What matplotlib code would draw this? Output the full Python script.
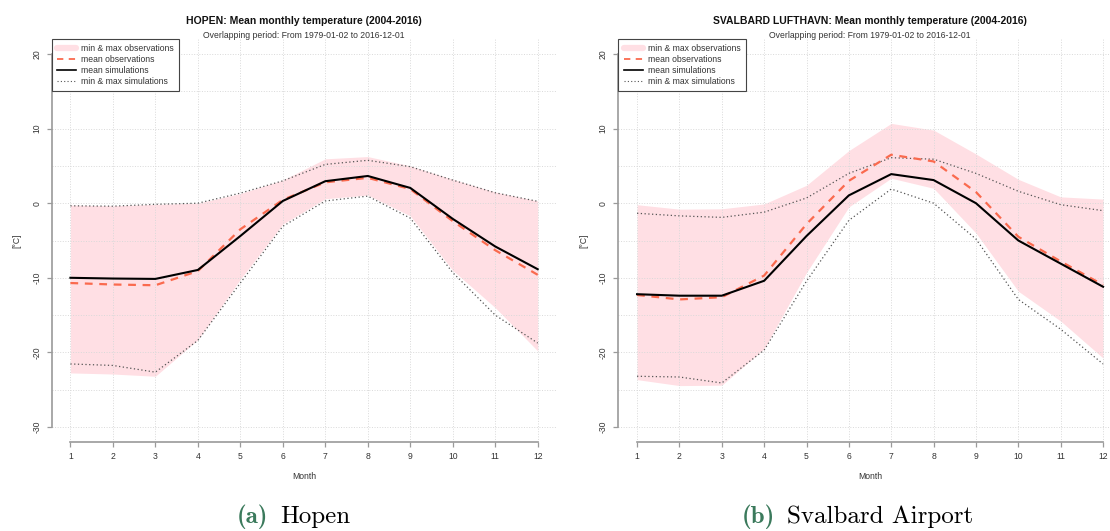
import matplotlib.pyplot as plt
from matplotlib.lines import Line2D

plt.rcParams['font.family'] = ['Liberation Sans', 'DejaVu Sans']
plt.rcParams['axes.unicode_minus'] = False

months = list(range(1, 13))

# Hopen
hopen_obs_min = [-22.75, -22.9, -23.2, -18.3, -10.2, -2.8, 0.6, 1.1, -1.7, -9.0, -14.0, -19.8]
hopen_obs_max = [-0.25, -0.35, -0.15, 0.0, 1.3, 3.1, 5.95, 6.25, 5.0, 3.2, 1.5, 0.3]
hopen_obs_mean = [-10.7, -10.9, -11.0, -9.1, -3.5, 0.45, 2.8, 3.4, 1.9, -2.4, -6.3, -9.6]
hopen_sim_mean = [-10.0, -10.1, -10.15, -8.95, -4.4, 0.3, 2.95, 3.65, 2.05, -2.1, -5.8, -8.85]
hopen_sim_min = [-21.55, -21.75, -22.65, -18.4, -10.7, -3.1, 0.3, 0.95, -2.0, -9.3, -15.0, -18.75]
hopen_sim_max = [-0.35, -0.4, -0.15, 0.0, 1.35, 3.0, 5.2, 5.75, 4.9, 3.1, 1.4, 0.25]

# Svalbard Lufthavn
sval_obs_min = [-23.65, -24.45, -24.4, -19.5, -9.3, -0.5, 3.35, 2.0, -4.0, -11.8, -15.8, -20.75]
sval_obs_max = [-0.2, -0.8, -0.75, -0.1, 2.4, 7.05, 10.7, 9.8, 6.6, 3.2, 0.85, 0.55]
sval_obs_mean = [-12.3, -12.9, -12.6, -9.7, -2.8, 3.0, 6.5, 5.6, 1.5, -4.5, -7.8, -10.95]
sval_sim_mean = [-12.2, -12.4, -12.4, -10.4, -4.4, 1.05, 3.9, 3.1, 0.0, -5.0, -8.1, -11.2]
sval_sim_min = [-23.2, -23.3, -24.1, -19.7, -10.45, -2.3, 1.9, 0.0, -4.8, -12.9, -16.9, -21.55]
sval_sim_max = [-1.35, -1.7, -1.9, -1.2, 0.7, 4.0, 6.1, 5.9, 4.0, 1.6, -0.2, -1.0]

subtitle = 'Overlapping period: From 1979-01-02 to 2016-12-01'
legend_labels = ['min & max observations', 'mean observations',
                 'mean simulations', 'min & max simulations']

W, H = 1110, 531
PINK = '#FFDFE4'
RED = '#FA6A4E'
DOT = '#555555'
GRID = '#D9D9D9'
AXIS = '#9A9A9A'
TEXT = '#333333'

fig = plt.figure(figsize=(W / 100, H / 100), dpi=100)


def px_axes(left, top, right, bottom):
    return fig.add_axes([left / W, 1 - bottom / H, (right - left) / W, (bottom - top) / H])


def panel(ax, title, obs_min, obs_max, obs_mean, sim_mean, sim_min, sim_max):
    ax.fill_between(months, obs_min, obs_max, color=PINK, lw=0, zorder=1)
    ax.plot(months, obs_mean, color=RED, lw=1.6, ls=(0, (3.5, 3)), zorder=3)
    ax.plot(months, sim_mean, color='black', lw=1.5, zorder=4)
    for s in (sim_min, sim_max):
        ax.plot(months, s, color=DOT, lw=0.9, ls=(0, (1, 2)), zorder=2)

    ax.set_xlim(0.56, 12.44)
    ax.set_ylim(-32, 22)
    ax.set_xticks(months)
    ax.set_yticks(range(-30, 21, 10))
    ax.set_yticks(range(-25, 20, 10), minor=True)
    ax.grid(True, which='both', color=GRID, ls=':', lw=0.7)
    ax.tick_params(which='minor', length=0)
    ax.tick_params(which='major', length=3.6, width=0.9, color=AXIS,
                   labelsize=6.2, labelcolor=TEXT, pad=4)
    for lbl in ax.get_yticklabels():
        lbl.set_rotation(90)
        lbl.set_va('center')

    for side in ('top', 'right'):
        ax.spines[side].set_visible(False)
    ax.spines['left'].set_bounds(-30, 20)
    ax.spines['bottom'].set_bounds(1, 12)
    for side in ('left', 'bottom'):
        ax.spines[side].set_color(AXIS)
        ax.spines[side].set_linewidth(1.2)

    ax.set_ylabel('[°C]', fontsize=6.2, color=TEXT)
    ax.yaxis.label.set_va('center')
    ax.yaxis.set_label_coords(-0.0695, 0.5)
    ax.set_xlabel('Month', fontsize=6.2, color=TEXT)
    ax.xaxis.label.set_va('center')
    ax.xaxis.set_label_coords(0.5, -0.087)

    ax.text(0.5, 1 + 15.6 / 402.8, title, transform=ax.transAxes, ha='center',
            va='baseline', fontsize=7.45, fontweight='bold', color='#111111')
    ax.text(0.5, 1 + 1.3 / 402.8, subtitle, transform=ax.transAxes, ha='center',
            va='baseline', fontsize=6.2, color=TEXT)

    handles = [
        Line2D([], [], color=PINK, lw=4.5, solid_capstyle='round'),
        Line2D([], [], color=RED, lw=1.3, ls=(0, (3.5, 3))),
        Line2D([], [], color='black', lw=1.2),
        Line2D([], [], color=DOT, lw=0.8, ls=(0, (1, 2))),
    ]
    leg = ax.legend(handles, legend_labels, loc='upper left', bbox_to_anchor=(0, 1),
                    borderaxespad=0, fontsize=6.2, frameon=True, fancybox=False,
                    handlelength=2.2, handletextpad=0.6, labelspacing=0.22,
                    borderpad=0.62, framealpha=1)
    leg.get_frame().set_edgecolor('#444444')
    leg.get_frame().set_linewidth(0.8)
    for t in leg.get_texts():
        t.set_color(TEXT)


ax1 = px_axes(51.7, 39.1, 556.4, 441.9)
panel(ax1, 'HOPEN: Mean monthly temperature (2004-2016)',
      hopen_obs_min, hopen_obs_max, hopen_obs_mean, hopen_sim_mean, hopen_sim_min, hopen_sim_max)

ax2 = px_axes(618.4, 39.1, 1121.7, 441.9)
panel(ax2, 'SVALBARD LUFTHAVN: Mean monthly temperature (2004-2016)',
      sval_obs_min, sval_obs_max, sval_obs_mean, sval_sim_mean, sval_sim_min, sval_sim_max)

# sub-figure captions
GREEN = '#3B7A5C'
base_y = 1 - 523.3 / H
fig.text(268 / W, base_y, '(a)', family='cmb10', fontsize=18, color=GREEN, ha='right', va='baseline')
fig.text(280 / W, base_y, 'Hopen', family='cmr10', fontsize=18, color='black', ha='left', va='baseline')
fig.text(774.5 / W, base_y, '(b)', family='cmb10', fontsize=18, color=GREEN, ha='right', va='baseline')
fig.text(787 / W, base_y, 'Svalbard Airport', family='cmr10', fontsize=18, color='black', ha='left', va='baseline')

fig.savefig('out.png', dpi=100)
